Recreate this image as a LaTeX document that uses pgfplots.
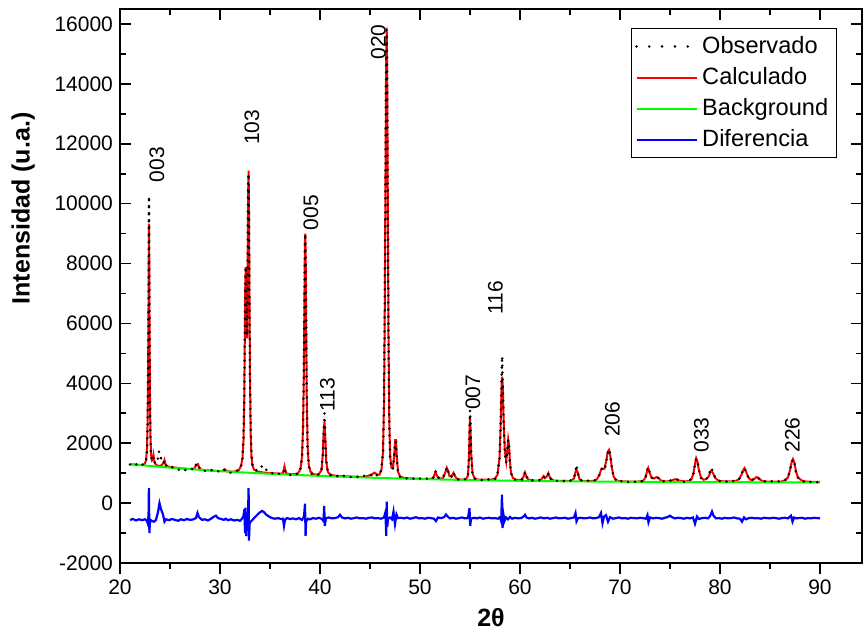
\documentclass[border=0pt]{standalone}
\usepackage{fontspec}
\setmainfont{Liberation Sans}
\usepackage{pgfplots}
\usepackage{pgfplotstable}
\pgfplotsset{compat=1.18}

% observed and calculated pattern
\pgfplotstableread{
x obs calc
21.0 1290 1300
21.3 1250 1292
21.6 1300 1284
21.9 1240 1276
22.2 1280 1272
22.45 1310 1300
22.60 1400 1420
22.70 1750 1800
22.76 2600 2700
22.81 4300 4400
22.85 6600 6500
22.88 8600 8500
22.90 10250 9330
22.92 9000 8600
22.95 6400 6300
22.99 3900 3900
23.04 2300 2300
23.10 1600 1650
23.18 1450 1420
23.28 1400 1450
23.35 1550 1600
23.42 1380 1420
23.55 1320 1300
23.75 1420 1250
23.90 1720 1240
24.05 1580 1250
24.20 1350 1280
24.35 1340 1340
24.45 1420 1440
24.55 1270 1300
24.75 1220 1230
25.0 1180 1205
25.3 1200 1195
25.6 1150 1185
25.9 1110 1170
26.2 1140 1160
26.5 1100 1150
26.8 1130 1145
27.1 1150 1140
27.4 1120 1140
27.6 1280 1260
27.7 1330 1290
27.8 1290 1300
27.9 1200 1190
28.1 1100 1120
28.4 1070 1105
28.7 1090 1095
29.0 1080 1090
29.3 1120 1082
29.6 1080 1075
29.9 1060 1070
30.2 1040 1066
30.45 1110 1130
30.55 1090 1110
30.7 1040 1060
31.0 1010 1055
31.3 1050 1050
31.6 1070 1065
31.9 1100 1110
32.1 1230 1240
32.25 1500 1500
32.35 2200 2100
32.42 3300 3300
32.48 5400 5500
32.53 7300 7400
32.57 7900 7880
32.61 7400 7500
32.66 6200 6200
32.71 5600 5500
32.76 7600 7700
32.81 10400 10300
32.86 11000 11100
32.90 9700 9800
32.95 6800 6900
33.00 4300 4200
33.07 2500 2300
33.15 1600 1550
33.25 1280 1250
33.4 1140 1120
33.7 1090 1060
34.0 1150 1040
34.2 1230 1030
34.35 1250 1020
34.55 1140 1015
34.8 1060 1005
35.1 1020 1000
35.4 980 995
35.7 960 990
36.0 990 985
36.3 970 995
36.45 1180 1230
36.6 980 1000
36.9 950 975
37.2 920 970
37.5 960 972
37.8 980 990
38.05 1150 1150
38.2 1500 1550
38.3 2400 2500
38.38 4200 4200
38.44 6600 6700
38.49 8600 8700
38.53 9000 9000
38.57 8100 8200
38.62 5800 5900
38.68 3400 3400
38.76 1900 1900
38.88 1250 1250
39.05 1020 1050
39.3 940 970
39.6 930 950
39.9 960 975
40.15 1120 1100
40.28 1650 1650
40.37 2450 2400
40.45 3000 2720
40.52 2200 2250
40.62 1450 1400
40.78 1030 1050
41.0 940 960
41.3 910 930
41.6 880 915
41.9 930 905
42.2 900 900
42.5 920 895
42.8 890 890
43.1 870 885
43.4 900 882
43.7 880 880
44.0 860 878
44.3 900 880
44.6 920 890
44.9 930 920
45.2 940 960
45.45 1000 1020
45.7 930 950
45.95 930 950
46.15 1150 1120
46.3 1700 1700
46.4 3200 3300
46.48 6500 6600
46.55 11000 11000
46.61 14500 14700
46.67 15800 15880
46.72 14000 14300
46.78 10000 10200
46.85 5500 5600
46.93 2600 2700
47.02 1450 1550
47.15 1150 1180
47.3 1150 1200
47.42 1550 1600
47.52 2050 2100
47.6 2050 2100
47.68 1500 1550
47.8 1050 1050
48.0 880 900
48.3 840 850
48.6 820 835
48.9 850 828
49.2 830 822
49.5 800 818
49.8 840 815
50.1 810 812
50.4 800 808
50.7 820 808
51.0 800 810
51.3 830 830
51.55 1060 1040
51.75 870 880
52.0 820 820
52.3 840 830
52.55 1050 1050
52.68 1200 1180
52.8 1090 1080
52.95 880 900
53.15 880 900
53.35 1030 1010
53.5 900 900
53.7 800 810
54.0 780 790
54.3 810 785
54.6 790 800
54.8 900 920
54.9 1500 1600
54.96 2500 2500
55.0 3100 2810
55.05 2500 2550
55.12 1600 1650
55.25 960 1000
55.45 820 830
55.7 790 790
56.0 780 785
56.3 760 780
56.6 800 782
56.9 790 785
57.2 780 790
57.5 800 820
57.75 950 950
57.95 1500 1500
58.05 2400 2400
58.12 3400 3400
58.18 4500 4100
58.22 4910 4220
58.28 3900 3900
58.36 2800 2800
58.48 1700 1750
58.62 1350 1400
58.72 1700 1750
58.82 2100 2130
58.9 1900 1950
58.98 1400 1450
59.1 1000 1020
59.3 820 840
59.6 770 780
59.9 760 770
60.2 790 790
60.4 950 920
60.5 1040 1020
60.6 930 920
60.8 790 790
61.1 750 760
61.4 770 755
61.7 760 752
62.0 770 760
62.2 830 820
62.35 900 900
62.5 830 830
62.7 880 900
62.85 1000 1000
63.0 830 850
63.3 750 760
63.6 740 745
63.9 760 742
64.2 730 740
64.5 750 740
64.8 720 738
65.1 760 745
65.4 820 820
65.55 1050 1040
65.65 1280 1110
65.75 1030 1050
65.95 800 800
66.2 750 745
66.5 720 735
66.8 750 732
67.1 730 735
67.4 750 745
67.7 800 800
67.95 950 960
68.15 1140 1150
68.3 1150 1140
68.45 1100 1150
68.62 1350 1400
68.78 1700 1720
68.9 1800 1780
69.02 1650 1600
69.18 1200 1200
69.35 900 900
69.6 770 770
69.9 700 735
70.2 740 728
70.5 720 725
70.8 700 722
71.1 730 720
71.4 720 720
71.7 700 720
72.0 730 725
72.3 730 745
72.55 850 850
72.72 1100 1080
72.82 1200 1170
72.95 1050 1030
73.15 850 850
73.4 820 820
73.65 880 870
73.85 830 840
74.1 740 750
74.4 730 728
74.7 720 725
75.0 750 740
75.3 770 770
75.5 790 800
75.7 790 780
76.0 760 745
76.3 710 730
76.6 720 728
76.9 740 735
77.15 820 800
77.35 1000 1000
77.5 1300 1320
77.62 1480 1500
77.75 1400 1380
77.9 1100 1080
78.1 840 860
78.35 770 780
78.6 790 800
78.85 900 880
79.05 1120 1050
79.15 1180 1090
79.3 1000 1000
79.5 880 850
79.8 760 760
80.1 720 735
80.4 740 725
80.7 720 722
81.0 700 722
81.3 740 725
81.6 740 745
81.9 790 800
82.15 950 950
82.35 1150 1120
82.45 1170 1170
82.6 1030 1050
82.85 850 850
83.1 760 770
83.4 800 800
83.65 860 870
83.85 830 840
84.1 750 760
84.4 730 728
84.7 720 720
85.0 740 718
85.3 720 718
85.6 700 716
85.9 730 716
86.2 740 725
86.5 770 760
86.8 850 860
87.0 1100 1100
87.15 1350 1350
87.3 1470 1470
87.45 1320 1340
87.6 1050 1050
87.8 850 860
88.1 760 770
88.4 720 730
88.7 740 720
89.0 700 712
89.3 720 710
89.6 690 708
90.0 710 705
}\patron

% background
\pgfplotstableread{
x bg
21 1300
22 1270
23 1240
24 1212
25 1185
26 1160
27 1135
28 1112
29 1090
30 1068
32 1030
34 995
36 965
38 936
40 909
42 884
44 861
46 840
48 821
50 804
52 789
54 776
56 764
58 754
60 745
62 737
64 730
66 724
68 719
70 715
74 708
78 702
82 698
86 694
90 690
}\fondo

% difference (offset)
\pgfplotstableread{
x dif
21.0 -560
21.3 -530
21.6 -580
21.9 -540
22.2 -570
22.5 -540
22.7 -600
22.8 -700
22.86 -300
22.89 500
22.91 -200
22.94 -1000
22.98 -700
23.05 -560
23.2 -600
23.4 -620
23.6 -560
23.8 -300
23.95 0
24.1 -200
24.3 -380
24.45 -620
24.6 -540
24.9 -570
25.2 -530
25.5 -560
25.8 -590
26.1 -540
26.4 -570
26.7 -530
27.0 -560
27.3 -545
27.6 -500
27.75 -330
27.9 -470
28.2 -560
28.5 -540
28.8 -580
29.1 -520
29.4 -450
29.6 -420
29.8 -500
30.1 -530
30.4 -560
30.55 -520
30.8 -570
31.1 -540
31.4 -580
31.7 -560
32.0 -590
32.2 -520
32.35 -430
32.45 -200
32.5 -1000
32.55 -150
32.62 -1100
32.7 -400
32.78 -800
32.86 500
32.9 -1250
32.96 -700
33.05 -620
33.2 -580
33.4 -500
33.7 -400
33.95 -320
34.2 -260
34.4 -300
34.6 -380
34.9 -450
35.2 -500
35.5 -520
35.8 -500
36.1 -530
36.3 -520
36.4 -760
36.5 -560
36.7 -500
37.0 -530
37.3 -510
37.6 -540
37.9 -500
38.2 -560
38.4 -450
38.5 -20
38.56 -1090
38.62 -600
38.8 -520
39.0 -540
39.3 -500
39.6 -520
39.9 -490
40.2 -530
40.35 -600
40.42 -90
40.48 -760
40.6 -500
40.9 -480
41.2 -510
41.5 -500
41.8 -470
42.0 -390
42.2 -480
42.5 -510
42.8 -490
43.1 -520
43.4 -500
43.7 -480
44.0 -510
44.3 -500
44.6 -520
44.9 -490
45.2 -480
45.5 -510
45.8 -500
46.1 -520
46.4 -480
46.55 -300
46.62 -1090
46.67 50
46.72 -800
46.8 -520
47.0 -480
47.2 -540
47.35 -280
47.5 -700
47.65 -380
47.8 -500
48.1 -490
48.4 -510
48.7 -480
49.0 -520
49.3 -500
49.6 -470
49.9 -510
50.2 -500
50.5 -520
50.8 -490
51.1 -500
51.4 -520
51.6 -600
51.8 -480
52.1 -500
52.4 -470
52.6 -380
52.8 -460
53.0 -510
53.3 -490
53.6 -520
53.9 -500
54.2 -480
54.5 -510
54.8 -500
54.95 -170
55.02 -760
55.1 -520
55.4 -490
55.7 -510
56.0 -480
56.3 -520
56.6 -500
56.9 -490
57.2 -510
57.5 -500
57.8 -520
58.0 -470
58.12 -600
58.2 280
58.26 -830
58.33 -350
58.45 -600
58.6 -480
58.8 -540
59.0 -460
59.2 -520
59.5 -490
59.8 -510
60.1 -500
60.35 -450
60.5 -390
60.65 -480
60.9 -510
61.2 -490
61.5 -520
61.8 -500
62.1 -480
62.4 -510
62.7 -490
63.0 -520
63.3 -500
63.6 -480
63.9 -510
64.2 -500
64.5 -490
64.8 -520
65.1 -500
65.4 -480
65.55 -330
65.65 -610
65.8 -500
66.1 -490
66.4 -510
66.7 -500
67.0 -480
67.3 -510
67.6 -500
67.9 -470
68.1 -330
68.25 -670
68.4 -450
68.6 -400
68.8 -620
69.0 -470
69.3 -520
69.6 -500
69.9 -480
70.2 -510
70.5 -500
70.8 -520
71.1 -490
71.4 -500
71.7 -510
72.0 -490
72.3 -500
72.6 -520
72.75 -400
72.85 -640
73.0 -480
73.3 -510
73.6 -490
73.9 -500
74.2 -520
74.5 -490
74.8 -460
75.0 -420
75.2 -470
75.5 -510
75.8 -490
76.1 -500
76.4 -520
76.7 -490
77.0 -510
77.3 -480
77.5 -690
77.7 -450
77.9 -530
78.2 -500
78.5 -490
78.8 -510
79.0 -440
79.2 -280
79.35 -420
79.6 -510
79.9 -500
80.2 -520
80.5 -490
80.8 -510
81.1 -500
81.4 -480
81.7 -510
82.0 -520
82.2 -620
82.4 -480
82.6 -540
82.9 -500
83.2 -490
83.5 -510
83.8 -500
84.1 -520
84.4 -490
84.7 -500
85.0 -510
85.3 -490
85.6 -500
85.9 -520
86.2 -500
86.5 -490
86.8 -510
87.1 -420
87.25 -620
87.4 -480
87.6 -510
87.9 -500
88.2 -490
88.5 -520
88.8 -500
89.1 -510
89.4 -490
89.7 -500
90.0 -510
}\diferencia

\newcommand{\ticksize}{\fontsize{10.5}{12}\selectfont}

\begin{document}
\begin{tikzpicture}
\pgfplotsset{
  base/.style={
    scale only axis,
    width=371pt, height=277pt,
    xmin=20, xmax=94.2,
    ymin=-2000, ymax=16500,
    major tick length=5.5pt,
    minor tick length=3pt,
    every tick/.style={black, line width=0.8pt},
  },
  obsstyle/.style={black, line width=1.4pt, line cap=round, dash pattern=on 0pt off 3.5pt},
}
\begin{axis}[
    base,
    axis line style={line width=1pt},
    tick align=inside,
    xtick={20,30,...,90},
    minor x tick num=1,
    ytick={-2000,0,...,16000},
    minor y tick num=1,
    scaled y ticks=false,
    xtick pos=right,
    xticklabel pos=left,
    xticklabel style={yshift=-5pt},
    /pgf/number format/assume math mode=true,
    /pgf/number format/1000 sep={},
    tick label style={font=\ticksize},
    xlabel={\textbf{2θ}},
    ylabel={\textbf{Intensidad (u.a.)}},
    label style={font=\fontsize{12.5}{14}\selectfont},
    ylabel style={at={(ticklabel cs:0.64)}},
    ylabel shift=3pt,
    legend style={
        at={(0.966,0.966)},
        anchor=north east,
        draw=black,
        line width=0.6pt,
        font=\fontsize{11.8}{14}\selectfont,
        row sep=1.5pt,
        inner xsep=2pt,
        inner ysep=2pt,
        cells={anchor=west},
    },
    legend image code/.code={\draw[#1] (0cm,0cm) -- (1.06cm,0cm);},
]

% legend entry for the observed pattern, which is drawn last (on top)
\addlegendimage{legend image code/.code={\draw[black, line width=1.4pt, line cap=round,
      dash pattern=on 0pt off 6.4pt] (0cm,0cm) -- (1.06cm,0cm);}}
\addlegendentry{Observado}

\addplot[red, line width=1pt] table[x=x, y=calc] {\patron};
\addlegendentry{Calculado}

\addplot[green, line width=1pt] table[x=x, y=bg] {\fondo};
\addlegendentry{Background}

\addplot[blue, line width=1.1pt] table[x=x, y=dif] {\diferencia};
\addlegendentry{Diferencia}

\addplot[obsstyle, forget plot] table[x=x, y=obs] {\patron};

\begin{scope}[every node/.style={rotate=90, anchor=west, font=\ticksize, inner sep=0pt}]
\node at (axis cs:23.7,10700) {003};
\node at (axis cs:33.2,11950) {103};
\node at (axis cs:39.1,9100) {005};
\node at (axis cs:40.75,3050) {113};
\node at (axis cs:45.85,14800) {020};
\node at (axis cs:55.3,3100) {007};
\node at (axis cs:57.55,6280) {116};
\node at (axis cs:69.25,2200) {206};
\node at (axis cs:78.15,1680) {033};
\node at (axis cs:87.25,1680) {226};
\end{scope}
\end{axis}

% outward ticks on the bottom axis
\begin{axis}[
    base,
    axis x line*=bottom,
    axis y line=none,
    axis line style={-, line width=1pt},
    tick align=outside,
    xtick={20,30,...,90},
    minor x tick num=1,
    xticklabels={},
]
\addplot[draw=none] coordinates {(20,0) (90,0)};
\end{axis}

\pgfresetboundingbox
\path ([shift={(-60pt,-35.5pt)}]current axis.south west)
  rectangle ([shift={(1pt,4.5pt)}]current axis.north east);
\end{tikzpicture}
\end{document}
